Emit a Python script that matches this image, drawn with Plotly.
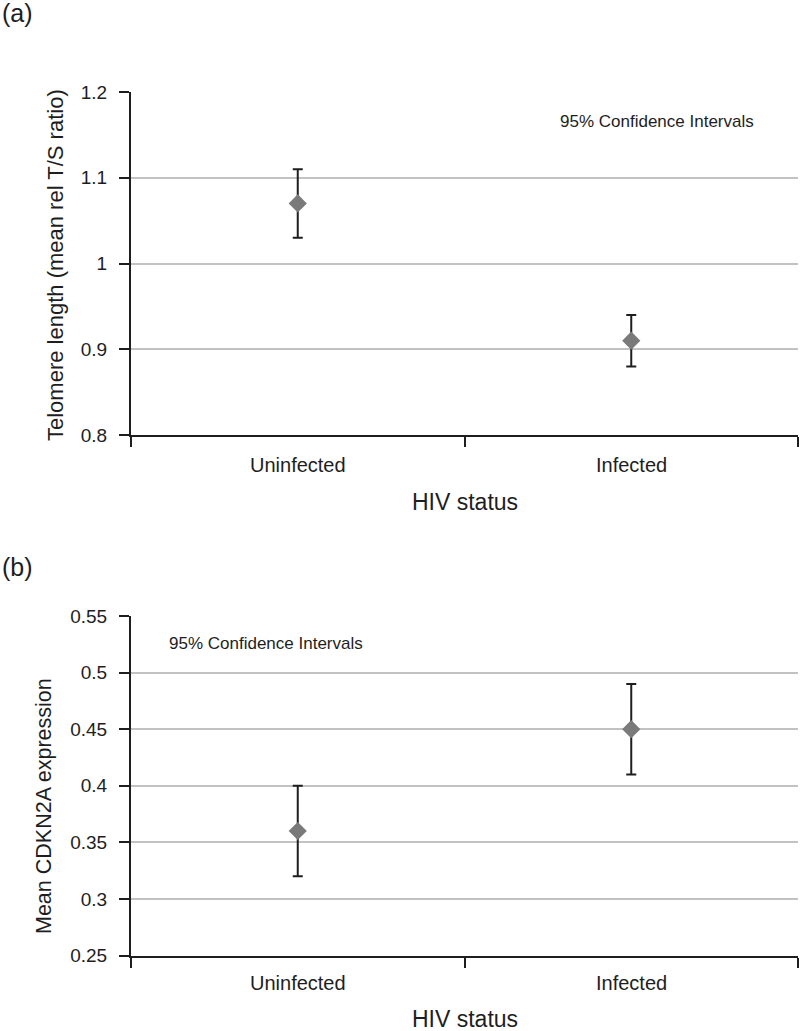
import plotly.graph_objects as go

categories = ["Uninfected", "Infected"]

# Panel (a): telomere length
tel_mean = [1.07, 0.91]
tel_low = [1.03, 0.88]
tel_high = [1.11, 0.94]
tel_ticks = [0.8, 0.9, 1.0, 1.1, 1.2]
tel_ticktext = ["0.8", "0.9", "1", "1.1", "1.2"]

# Panel (b): CDKN2A expression
cdk_mean = [0.36, 0.45]
cdk_low = [0.32, 0.41]
cdk_high = [0.40, 0.49]
cdk_ticks = [0.25, 0.3, 0.35, 0.4, 0.45, 0.5, 0.55]
cdk_ticktext = ["0.25", "0.3", "0.35", "0.4", "0.45", "0.5", "0.55"]

W, H = 800, 1031
FONT = "Liberation Sans, Arial, Helvetica, sans-serif"
TXT = "#1e1e1e"

def py(pix):
    return 1 - pix / H

fig = go.Figure()

def add_panel(mean, low, high, xa, ya):
    fig.add_trace(go.Scatter(
        x=categories, y=mean, mode="markers",
        marker=dict(symbol="diamond", size=14, color="#7a7a7a"),
        error_y=dict(type="data", symmetric=False,
                     array=[h - m for h, m in zip(high, mean)],
                     arrayminus=[m - l for m, l in zip(mean, low)],
                     color="#1e1e1e", thickness=2, width=5),
        xaxis=xa, yaxis=ya, showlegend=False, hoverinfo="skip"))

add_panel(tel_mean, tel_low, tel_high, "x", "y")
add_panel(cdk_mean, cdk_low, cdk_high, "x2", "y2")

xcommon = dict(type="category", tickson="boundaries", ticks="outside", ticklen=10,
               tickwidth=2, tickcolor="#1e1e1e", showline=True, linecolor="#1e1e1e",
               linewidth=2, showgrid=False, range=[-0.5, 1.5], showticklabels=False,
               automargin=False, fixedrange=True)
ycommon = dict(ticks="outside", ticklen=10, tickwidth=2, tickcolor="#1e1e1e",
               showline=True, linecolor="#1e1e1e", linewidth=2,
               showgrid=True, gridcolor="#c2c2c2", gridwidth=2, zeroline=False,
               tickfont=dict(family=FONT, size=19, color=TXT),
               ticklabelstandoff=8, automargin=False, fixedrange=True)

x0, x1 = 131 / W, 798 / W
fig.update_layout(
    width=W, height=H, margin=dict(l=0, r=0, t=0, b=0, autoexpand=False),
    paper_bgcolor="white", plot_bgcolor="white",
    xaxis=dict(domain=[x0, x1], anchor="y", **xcommon),
    yaxis=dict(domain=[py(435), py(92)], anchor="x", range=[0.8, 1.2],
               tickvals=tel_ticks, ticktext=tel_ticktext, **ycommon),
    xaxis2=dict(domain=[x0, x1], anchor="y2", **xcommon),
    yaxis2=dict(domain=[py(955.5), py(616)], anchor="x2", range=[0.25, 0.55],
                tickvals=cdk_ticks, ticktext=cdk_ticktext, **ycommon),
)

def txt(text, x, y, size, xref="paper", angle=0, xanchor="center"):
    fig.add_annotation(text=text, x=x, y=py(y), xref=xref, yref="paper",
                       xanchor=xanchor, yanchor="middle", showarrow=False,
                       textangle=angle,
                       font=dict(family=FONT, size=size, color=TXT))

# category labels
for c in categories:
    txt(c, c, 465, 20, xref="x")
    txt(c, c, 983, 20, xref="x2")

# axis titles
txt("HIV status", (x0 + x1) / 2, 502, 23)
txt("HIV status", (x0 + x1) / 2, 1019, 23)
txt("Telomere length (mean rel T/S ratio)", 56 / W, 265, 22, angle=-90)
txt("Mean CDKN2A expression", 44 / W, 806, 21.5, angle=-90)

# panel labels
txt("(a)", 0, 13, 25, xanchor="left")
txt("(b)", 0, 567, 25, xanchor="left")

# notes
txt("95% Confidence Intervals", 558 / W, 121, 17, xanchor="left")
txt("95% Confidence Intervals", 167 / W, 643, 17, xanchor="left")

fig.write_html("out.html", config=dict(staticPlot=True),
               post_script="document.body.style.margin='0';document.body.style.overflow='hidden';")
